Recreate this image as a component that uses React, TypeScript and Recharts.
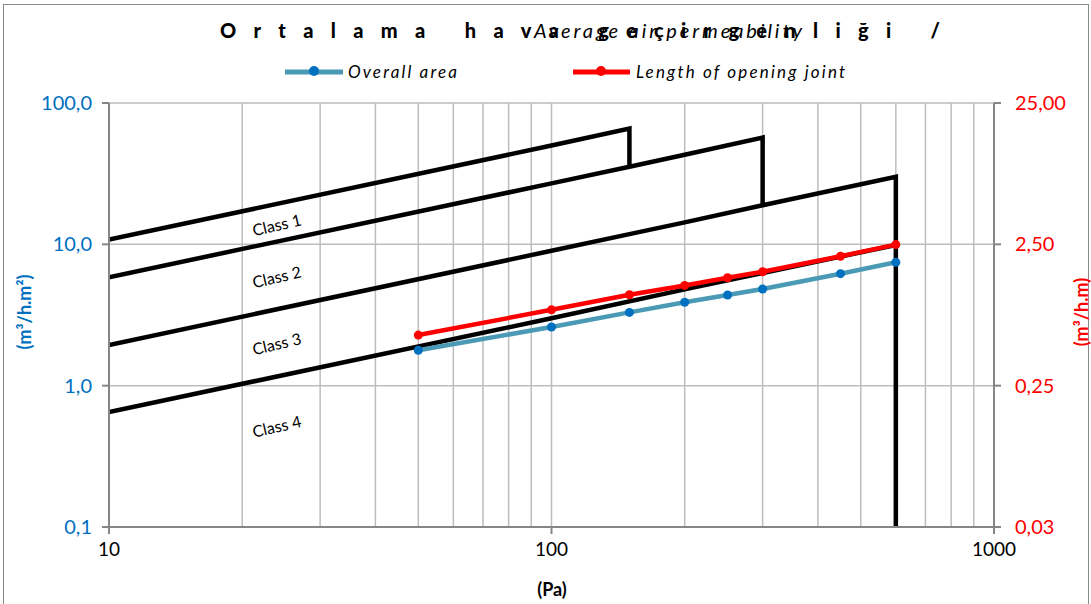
import React from "react";
import { LineChart, Line, XAxis, YAxis, CartesianGrid, ReferenceDot } from "recharts";

// pressure axis (Pa)
const PRESSURE_MAJOR = [10, 100, 1000];
const PRESSURE_GRID = [10, 20, 30, 40, 50, 60, 70, 80, 90, 100, 200, 300, 400, 500, 600, 700, 800, 900, 1000];
const LEFT_TICKS = [0.1, 1, 10, 100];
const RIGHT_TICKS = [0.025, 0.25, 2.5, 25];

// measured series
const testPressure = [50, 100, 150, 200, 250, 300, 450, 600];
const overallArea = [1.78, 2.6, 3.3, 3.89, 4.38, 4.83, 6.2, 7.46]; // m3/h.m2
const openingJoint = [0.57, 0.86, 1.1, 1.28, 1.45, 1.6, 2.06, 2.49]; // m3/h.m

// class limit lines (m3/h.m2)
const class1P = [10, 100, 150, 150];
const class1V = [10.8, 50, 66, 35.4];
const class2P = [10, 100, 150, 200, 300, 300];
const class2V = [5.85, 27, 35.4, 43, 57, 18.9];
const class3P = [10, 100, 150, 200, 300, 600, 600];
const class3V = [1.94, 9, 11.8, 14.3, 18.9, 30, 0.1];
const class4P = [10, 100, 200, 600];
const class4V = [0.65, 3, 4.8, 9.9];

const classLabels = ["Class 1", "Class 2", "Class 3", "Class 4"];
const classLabelP = [24, 24, 24, 24];
const classLabelV = [13.3, 5.7, 1.92, 0.5];

const toPts = (p: number[], v: number[]) => p.map((x, i) => ({ p: x, v: v[i] }));

const overallData = testPressure.map((p, i) => ({ p, v: overallArea[i] }));
const jointData = testPressure.map((p, i) => ({ p, v: openingJoint[i] }));
const classData = [toPts(class1P, class1V), toPts(class2P, class2V), toPts(class3P, class3V), toPts(class4P, class4V)];

const FONT = "Lato, 'Open Sans', sans-serif";
const BLUE = "#0070C0";
const TEAL = "#4A9AB6";
const RED = "#FF0000";
const AXIS = "#868686";

const comma = (n: number, d: number) => n.toFixed(d).replace(".", ",");

const ClassLabel = (props: any) => {
  const { viewBox, value } = props;
  const x = viewBox.x ?? viewBox.cx;
  const y = viewBox.y ?? viewBox.cy;
  return (
    <text x={x} y={y} transform={`rotate(-13 ${x} ${y})`} textAnchor="middle" dominantBaseline="middle"
      fontFamily={FONT} fontSize={16} fill="#000">{value}</text>
  );
};

export default function App() {
  return (
    <div style={{ position: "absolute", left: 0, top: 0, width: 1091, height: 604, background: "#fff", overflow: "hidden" }}>
      <div style={{ position: "absolute", left: 3, top: 4, width: 1084, height: 620, border: "1.5px solid #8a8a8a" }} />
      <LineChart width={1091} height={604} margin={{ top: 103, right: 37, bottom: 37, left: 49 }}>
        <CartesianGrid xAxisId="grid" yAxisId="left" stroke="#bdbdbd" strokeWidth={1.5} />
        <XAxis xAxisId="grid" dataKey="p" type="number" scale="log" domain={[10, 1000]} ticks={PRESSURE_GRID}
          interval={0} hide height={0} orientation="top" allowDataOverflow />
        <XAxis xAxisId="main" dataKey="p" type="number" scale="log" domain={[10, 1000]} ticks={PRESSURE_MAJOR}
          interval={0} height={40} allowDataOverflow
          tick={{ fontFamily: FONT, fontSize: 19, fill: "#000" }} tickSize={7} tickMargin={9}
          axisLine={{ stroke: AXIS, strokeWidth: 2 }} tickLine={{ stroke: AXIS, strokeWidth: 2 }} />
        <YAxis yAxisId="left" type="number" scale="log" domain={[0.1, 100]} ticks={LEFT_TICKS} width={60}
          allowDataOverflow tickFormatter={(v: number) => comma(v, 1)}
          tick={{ fontFamily: FONT, fontSize: 20, fill: BLUE }} tickSize={7} tickMargin={10}
          axisLine={{ stroke: AXIS, strokeWidth: 2 }} tickLine={{ stroke: AXIS, strokeWidth: 2 }} />
        <YAxis yAxisId="right" orientation="right" type="number" scale="log" domain={[0.025, 25]} ticks={RIGHT_TICKS}
          width={60} allowDataOverflow tickFormatter={(v: number) => comma(v, 2)}
          tick={{ fontFamily: FONT, fontSize: 20, fill: RED }} tickSize={7} tickMargin={14}
          axisLine={{ stroke: AXIS, strokeWidth: 2 }} tickLine={{ stroke: AXIS, strokeWidth: 2 }} />

        {classData.map((d, i) => (
          <Line key={`class-${i}`} xAxisId="main" yAxisId="left" data={d} dataKey="v" type="linear"
            stroke="#000" strokeWidth={4.5} dot={false} isAnimationActive={false} />
        ))}
        <Line xAxisId="main" yAxisId="left" data={overallData} dataKey="v" name="Overall area" type="linear"
          stroke={TEAL} strokeWidth={4.5} dot={{ r: 4.5, fill: BLUE, stroke: "none" }} isAnimationActive={false} />
        <Line xAxisId="main" yAxisId="right" data={jointData} dataKey="v" name="Length of opening joint" type="linear"
          stroke={RED} strokeWidth={4.5} dot={{ r: 4.5, fill: RED, stroke: "none" }} isAnimationActive={false} />

        {classLabels.map((t, i) => (
          <ReferenceDot key={t} xAxisId="main" yAxisId="left" x={classLabelP[i]} y={classLabelV[i]} r={0}
            fill="none" stroke="none" label={<ClassLabel value={t} />} />
        ))}
      </LineChart>

      <svg width={1091} height={604} style={{ position: "absolute", left: 0, top: 0, pointerEvents: "none" }}>
        <text x={220} y={38} textLength={720} lengthAdjust="spacing" fontFamily={FONT} fontWeight="900" fontSize={20}>
          Ortalama hava geçirgenliği /
        </text>
        <text x={534} y={38} fontFamily={FONT} fontStyle="italic" fontSize={20} textLength={268} lengthAdjust="spacing">
          Average air permeability
        </text>

        <line x1={285} y1={72} x2={343} y2={72} stroke={TEAL} strokeWidth={5} />
        <circle cx={314} cy={71} r={5} fill={BLUE} />
        <text x={348} y={78} fontFamily={FONT} fontStyle="italic" fontSize={17} textLength={109} lengthAdjust="spacing">Overall area</text>
        <line x1={573} y1={72} x2={630} y2={72} stroke={RED} strokeWidth={5} />
        <circle cx={601} cy={71} r={5} fill={RED} />
        <text x={636} y={78} fontFamily={FONT} fontStyle="italic" fontSize={17} textLength={209} lengthAdjust="spacing">Length of opening joint</text>

        <text transform="rotate(-90 26 312)" x={26} y={312} textAnchor="middle" dominantBaseline="middle"
          fontFamily={FONT} fontWeight="bold" fontSize={18} fill={BLUE}>(m³/h.m²)</text>
        <text transform="rotate(-90 1083 312)" x={1083} y={312} textAnchor="middle" dominantBaseline="middle"
          fontFamily={FONT} fontWeight="bold" fontSize={18} fill={RED}>(m³/h.m)</text>
        <text x={552} y={596} textAnchor="middle" fontFamily={FONT} fontWeight="bold" fontSize={18} fill="#000">(Pa)</text>
      </svg>
    </div>
  );
}
